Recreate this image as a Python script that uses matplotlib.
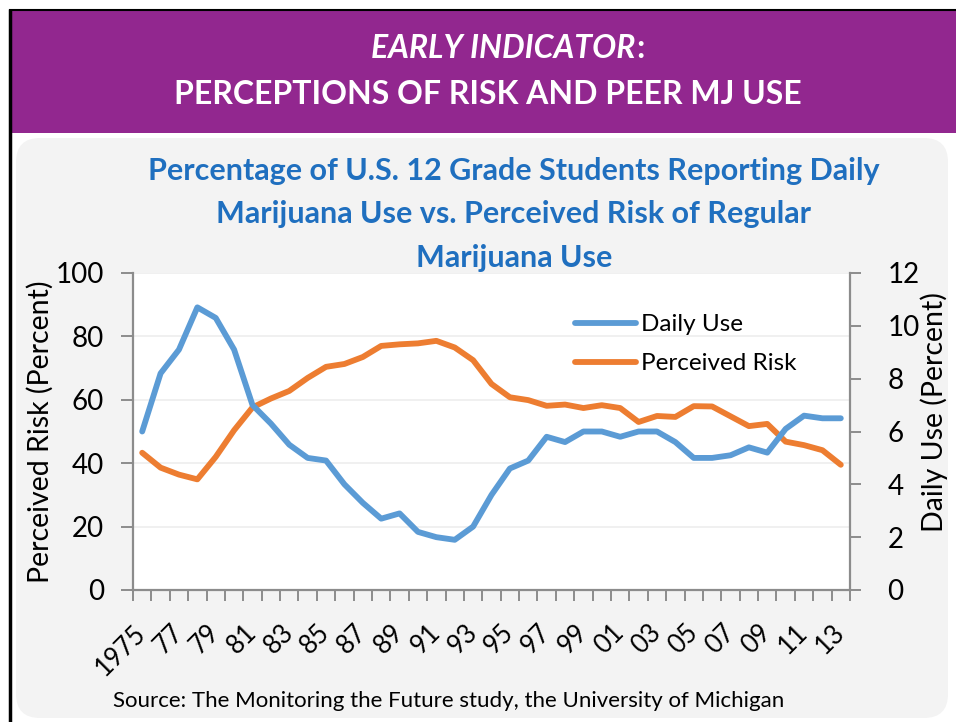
import matplotlib
matplotlib.use("Agg")
import matplotlib.pyplot as plt
from matplotlib.patches import FancyBboxPatch, Rectangle

# ---- data ----
years = list(range(1975, 2014))
daily_use = [6.0, 8.2, 9.1, 10.7, 10.3, 9.1, 7.0, 6.3, 5.5, 5.0, 4.9, 4.0, 3.3, 2.7, 2.9,
             2.2, 2.0, 1.9, 2.4, 3.6, 4.6, 4.9, 5.8, 5.6, 6.0, 6.0, 5.8, 6.0, 6.0, 5.6,
             5.0, 5.0, 5.1, 5.4, 5.2, 6.1, 6.6, 6.5, 6.5]
perceived_risk = [43.3, 38.6, 36.4, 34.9, 42.0, 50.4, 57.6, 60.4, 62.8, 66.9, 70.4, 71.3,
                  73.5, 77.0, 77.5, 77.8, 78.6, 76.5, 72.5, 65.0, 60.8, 59.9, 58.1, 58.5,
                  57.4, 58.3, 57.4, 53.0, 54.9, 54.6, 58.0, 57.9, 54.8, 51.7, 52.4, 46.8,
                  45.7, 44.1, 39.5]
xtick_labels = ['1975', '77', '79', '81', '83', '85', '87', '89', '91', '93', '95', '97',
                '99', '01', '03', '05', '07', '09', '11', '13']
left_ticks = [0, 20, 40, 60, 80, 100]
right_ticks = [0, 2, 4, 6, 8, 10, 12]

FONT = 'Lato'
plt.rcParams['font.family'] = [FONT, 'DejaVu Sans']

W, H = 956, 722
fig = plt.figure(figsize=(W / 100, H / 100), dpi=100)
fig.patch.set_facecolor('white')

# background layer in pixel coordinates
bg = fig.add_axes([0, 0, 1, 1], zorder=-10)
bg.set_xlim(0, W)
bg.set_ylim(H, 0)
bg.axis('off')
bg.add_patch(Rectangle((11, 10), W - 11, 123, facecolor='#92278f', edgecolor='none'))
bg.add_patch(FancyBboxPatch((16, 138), 932, 580,
                            boxstyle='round,pad=0,rounding_size=24',
                            facecolor='#f3f3f3', edgecolor='none'))
bg.plot([10, 10], [9, H], color='black', lw=2.5, solid_capstyle='butt')
bg.plot([9, W], [9.5, 9.5], color='black', lw=1.5, solid_capstyle='butt')

# header text
bg.text(635, 49, 'EARLY INDICATOR', color='white', fontsize=23, fontweight='bold',
        fontstyle='italic', ha='right', va='center')
bg.text(636, 49, ':', color='white', fontsize=23, fontweight='bold', ha='left', va='center')
bg.text(488, 94, 'PERCEPTIONS OF RISK AND PEER MJ USE', color='white', fontsize=23,
        fontweight='bold', ha='center', va='center')

# chart title
title_lines = ['Percentage of U.S. 12 Grade Students Reporting Daily',
               'Marijuana Use vs. Perceived Risk of Regular',
               'Marijuana Use']
for i, line in enumerate(title_lines):
    bg.text(514, 171 + i * 43.5, line, color='#1f6fbf', fontsize=22, fontweight='bold',
            ha='center', va='center')

# main axes
L, R, T, B = 133, 850, 273, 590
ax = fig.add_axes([L / W, (H - B) / H, (R - L) / W, (B - T) / H])
ax.set_facecolor('white')
x = list(range(len(years)))
ax.set_xlim(-0.5, len(years) - 0.5)
ax.set_ylim(0, 100)
ax.set_yticks(left_ticks)
ax.set_yticklabels([str(v) for v in left_ticks])
ax.yaxis.grid(True, color='#ededed', lw=1.2)
ax.set_axisbelow(True)

gray = '#8c8c8c'
for s in ['left', 'bottom']:
    ax.spines[s].set_color(gray)
    ax.spines[s].set_linewidth(1.6)
ax.spines['top'].set_visible(False)
ax.spines['right'].set_visible(False)

ax.set_xticks([i - 0.5 for i in range(len(years) + 1)])
ax.set_xticklabels([])
ax.set_xticks(list(range(0, len(years), 2)), minor=True)
ax.set_xticklabels(xtick_labels, minor=True, rotation=45, ha='right', va='center',
                   rotation_mode='anchor', fontsize=18.5)
ax.tick_params(axis='x', which='major', direction='out', length=8, width=1.4, color=gray)
ax.tick_params(axis='x', which='minor', length=0, pad=28)
ax.tick_params(axis='y', direction='out', length=9, width=1.4, color=gray,
               labelsize=20, pad=12)

risk_line, = ax.plot(x, perceived_risk, color='#ed7d31', lw=4.2, solid_joinstyle='round',
                     solid_capstyle='round')

ax2 = ax.twinx()
ax2.set_ylim(0, 12)
ax2.set_yticks(right_ticks)
ax2.set_yticklabels([str(v) for v in right_ticks])
for s in ['left', 'top', 'bottom']:
    ax2.spines[s].set_visible(False)
ax2.spines['right'].set_color(gray)
ax2.spines['right'].set_linewidth(1.6)
ax2.tick_params(axis='y', direction='out', length=8, width=1.4, color=gray,
                labelsize=20, pad=19)
use_line, = ax2.plot(x, daily_use, color='#5b9bd5', lw=4.2, solid_joinstyle='round',
                     solid_capstyle='round')

leg = ax2.legend([use_line, risk_line], ['Daily Use', 'Perceived Risk'],
                 loc='upper left', bbox_to_anchor=((575 - L) / (R - L), 1 - (314 - T) / (B - T)),
                 frameon=False, fontsize=17.5, handlelength=2.5, handletextpad=0.2,
                 labelspacing=0.75, borderaxespad=0, borderpad=0)

# axis titles
bg.text(40, 432, 'Perceived Risk (Percent)', rotation=90, fontsize=20.5,
        ha='center', va='center', color='black')
bg.text(934, 412, 'Daily Use (Percent)', rotation=90, fontsize=20.5,
        ha='center', va='center', color='black')

# source
bg.text(113, 701, 'Source: The Monitoring the Future study, the University of Michigan',
        fontsize=16, ha='left', va='center', color='black')

fig.savefig('out.png', dpi=100)
